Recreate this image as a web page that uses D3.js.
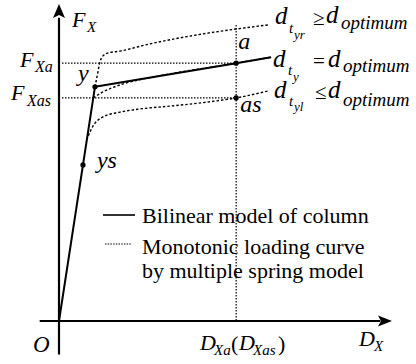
<!DOCTYPE html>
<html><head><meta charset="utf-8">
<script src="https://cdn.jsdelivr.net/npm/d3@7"></script>
<style>body{margin:0}</style></head>
<body><svg id="chart" width="416" height="364"></svg>
<script>
// Displacement D_X and force F_X in relative units, 0 to 100 on each axis
const bilinear = [[0, 0], [10.8, 74.1], [53.2, 81.6], [63.7, 83.5]];
const curveUpper = [[10.8, 74.1], [11.4, 77.2], [12.3, 82.0], [13.2, 83.9], [14.7, 84.8],
  [18.3, 85.4], [27.3, 87.7], [36.3, 89.6], [44.7, 91.1], [53.2, 92.4], [62.8, 93.7]];
const curveMiddle = [[10.3, 70.6], [11.4, 71.4], [13.2, 72.5], [16.2, 73.9], [19.8, 75.2],
  [30.3, 77.6], [53.2, 81.6], [63.7, 83.5]];
const curveLower = [[8.3, 57.3], [9.3, 59.8], [10.2, 61.7], [11.4, 63.3], [13.2, 64.6],
  [18.3, 66.1], [24.3, 67.1], [33.3, 68.0], [44.7, 69.3], [53.2, 70.6], [62.8, 72.8]];
const keyPoints = [
  { name: "ys", d: 7.2, f: 49.4 },
  { name: "y", d: 10.8, f: 74.1 },
  { name: "a", d: 53.2, f: 81.6 },
  { name: "as", d: 53.2, f: 70.6 }
];
const F_Xa = 81.6, F_Xas = 70.6, D_Xa = 53.2;
const legendLines = ["Bilinear model of column", "Monotonic loading curve", "by multiple spring model"];

const svg = d3.select("#chart");
const x = d3.scaleLinear().domain([0, 100]).range([59, 392]);
const y = d3.scaleLinear().domain([0, 100]).range([321, 5]);
const line = d3.line().x(p => x(p[0])).y(p => y(p[1]));
const smooth = d3.line().x(p => x(p[0])).y(p => y(p[1])).curve(d3.curveMonotoneX);

// Axes with arrowheads
const ax = svg.append("g").attr("stroke", "#000").attr("fill", "#000");
ax.append("line").attr("x1", x(0)).attr("x2", x(0)).attr("y1", y(-10.6)).attr("y2", y(96))
  .attr("stroke-width", 2.2);
ax.append("path").attr("stroke", "none")
  .attr("d", `M${x(0)},${y(100) - 1} L${x(0) - 6},${y(100) + 13} L${x(0)},${y(100) + 10} L${x(0) + 6},${y(100) + 13} Z`);
ax.append("line").attr("x1", x(-5.8)).attr("x2", x(96.5)).attr("y1", y(0)).attr("y2", y(0))
  .attr("stroke-width", 2.2);
ax.append("path").attr("stroke", "none")
  .attr("d", `M${x(100)},${y(0)} L${x(100) - 14},${y(0) - 5.5} L${x(100) - 11},${y(0)} L${x(100) - 14},${y(0) + 5.5} Z`);

// Reference lines at F_Xa, F_Xas and D_Xa
const ref = svg.append("g").attr("stroke", "#000").attr("stroke-width", 1.2)
  .attr("stroke-dasharray", "1.5,1.5").attr("fill", "none");
ref.append("line").attr("x1", x(0.9)).attr("x2", x(D_Xa)).attr("y1", y(F_Xa)).attr("y2", y(F_Xa));
ref.append("line").attr("x1", x(0.9)).attr("x2", x(D_Xa)).attr("y1", y(F_Xas)).attr("y2", y(F_Xas));
ref.append("line").attr("x1", x(D_Xa)).attr("x2", x(D_Xa)).attr("y1", y(93.7)).attr("y2", y(0));

// Monotonic loading curves
svg.append("g").attr("fill", "none").attr("stroke", "#000").attr("stroke-width", 1.4)
  .attr("stroke-dasharray", "2.5,2")
  .selectAll("path").data([curveUpper, curveMiddle, curveLower]).join("path")
  .attr("d", smooth);

// Bilinear model
svg.append("path").datum(bilinear).attr("d", line)
  .attr("fill", "none").attr("stroke", "#000").attr("stroke-width", 2).attr("stroke-linejoin", "round");

svg.append("g").selectAll("circle").data(keyPoints).join("circle")
  .attr("cx", p => x(p.d)).attr("cy", p => y(p.f)).attr("r", 2.6).attr("fill", "#000");

// Each label piece is its own text element: [text, x, baseline, size, italic]
const labelPieces = [];
function label(pieces) { pieces.forEach(p => labelPieces.push(p)); }

label([["F", 72, 27, 22], ["X", 87, 32, 15]]);
label([["F", 20, 67, 22], ["Xa", 35, 72, 16]]);
label([["F", 11, 100, 22], ["Xas", 27, 106, 16]]);

const byName = Object.fromEntries(keyPoints.map(p => [p.name, p]));
label([["y", x(byName.y.d) - 17, y(byName.y.f) - 6, 24]]);
label([["ys", x(byName.ys.d) + 14, y(byName.ys.f) + 3, 24]]);
label([["a", x(byName.a.d) + 2, y(byName.a.f) - 14, 24]]);
label([["as", x(byName.as.d) + 4, y(byName.as.f) + 14, 24]]);

label([["d", 275, 24, 25], ["t", 289, 33, 15], ["yr", 294, 39, 13],
       ["\u2265", 313, 25, 21, false], ["d", 326, 23, 25], ["optimum", 341, 29, 19]]);
label([["d", 273, 67, 25], ["t", 288, 75, 15], ["y", 293, 81, 13],
       ["=", 313, 68, 21, false], ["d", 328, 67, 25], ["optimum", 343, 72, 19]]);
label([["d", 274, 98, 25], ["t", 289, 106, 15], ["yl", 294, 111, 13],
       ["\u2264", 315, 99, 21, false], ["d", 328, 98, 25], ["optimum", 343, 106, 19]]);

label([["O", 33, 352, 23]]);
label([["D", 200, 350, 22], ["Xa", 214, 355, 15], ["(", 231, 351, 22, false],
       ["D", 239, 350, 22], ["Xas", 253, 355, 15], [")", 278, 351, 22, false]]);
label([["D", 359, 346, 22], ["X", 374, 351, 15]]);

legendLines.forEach((t, i) => labelPieces.push([t, 142, [223, 254, 278][i], 22, false]));

svg.selectAll("text.lbl").data(labelPieces).join("text")
  .attr("class", "lbl")
  .attr("x", p => p[1]).attr("y", p => p[2]).attr("font-size", p => p[3])
  .style("font-family", '"Liberation Serif"')
  .style("font-style", p => p[4] === false ? "normal" : "italic")
  .text(p => p[0]);

// Legend keys
const lg = svg.append("g");
lg.append("line").attr("x1", 103).attr("x2", 135).attr("y1", 215).attr("y2", 215)
  .attr("stroke", "#000").attr("stroke-width", 1.6);
lg.append("line").attr("x1", 105).attr("x2", 132).attr("y1", 244).attr("y2", 244)
  .attr("stroke", "#000").attr("stroke-width", 1.2).attr("stroke-dasharray", "1.5,1.2");
</script>
</body>
</html>
